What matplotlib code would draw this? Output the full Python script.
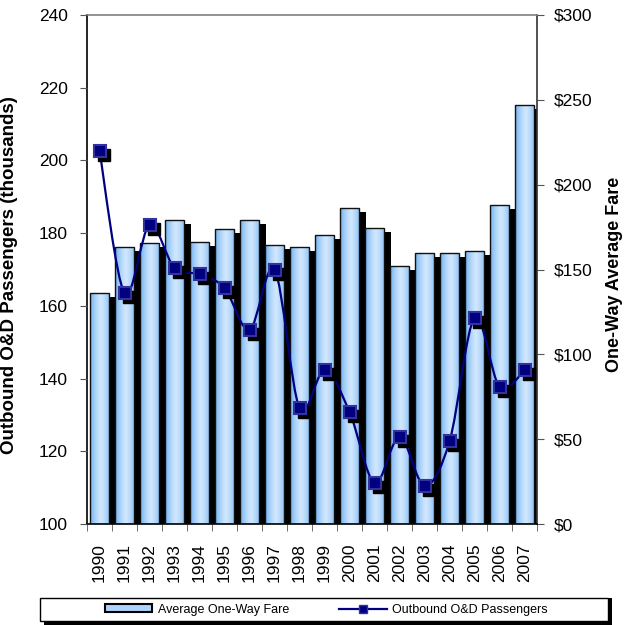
import numpy as np
import matplotlib
matplotlib.use("Agg")
import matplotlib.pyplot as plt
import matplotlib.transforms as mtransforms
from matplotlib.path import Path
from matplotlib.patches import PathPatch, Rectangle, Patch
from matplotlib.lines import Line2D
from matplotlib.colors import to_rgb

plt.rcParams['font.family'] = ['Liberation Sans', 'DejaVu Sans']

# data
years = ['1990', '1991', '1992', '1993', '1994', '1995', '1996', '1997', '1998',
         '1999', '2000', '2001', '2002', '2003', '2004', '2005', '2006', '2007']
fare = [136, 163, 165.5, 179, 166, 174, 179, 164.5, 163,
        170.5, 186, 174.5, 152, 159.5, 159.5, 161, 188, 247]
passengers = [202.6, 163.5, 182.2, 170.4, 168.7, 164.9, 153.4, 169.9, 131.9,
              142.4, 130.8, 111.3, 124.0, 110.5, 122.8, 156.7, 137.7, 142.4]
fare_ticks = [0, 50, 100, 150, 200, 250, 300]
pass_ticks = [100, 120, 140, 160, 180, 200, 220, 240]

x = np.arange(len(years))

fig = plt.figure(figsize=(6.26, 6.25), dpi=100)
ax = fig.add_axes([0.139, 0.1616, 0.719, 0.8144])   # bars, fare scale (right)
ax2 = ax.twinx()                                     # line, passengers (left)

# bar shadows
shadow_tr = mtransforms.offset_copy(ax.transData, fig=fig, x=7, y=-4, units='dots')
ax.bar(x, fare, width=0.76, color='black', transform=shadow_tr, zorder=1)

# gradient bars
edge = np.array(to_rgb('#7bb7f2'))
mid = np.array(to_rgb('#d0e7fe'))
t = np.linspace(0, 1, 64)
w = 1 - np.abs(2 * t - 1.1) ** 1.4
w = np.clip(w, 0, 1)
grad = (edge[None, :] + (mid - edge)[None, :] * w[:, None])[None, :, :]

bars = ax.bar(x, fare, width=0.76, facecolor='none', edgecolor='#111111',
              linewidth=1.0, zorder=3)
for b in bars:
    im = ax.imshow(grad, extent=[b.get_x(), b.get_x() + b.get_width(), 0, b.get_height()],
                   aspect='auto', zorder=2, interpolation='bilinear')
    im.set_clip_path(b)

ax.set_xlim(-0.5, len(years) - 0.5)
ax.set_ylim(0, 300)
ax2.set_ylim(100, 240)

# smoothed line (bezier through the points)
pts = np.column_stack([x, passengers]).astype(float)
n = len(pts)
verts = [pts[0]]
codes = [Path.MOVETO]
for i in range(n - 1):
    p0 = pts[i - 1] if i > 0 else pts[i]
    p1 = pts[i]
    p2 = pts[i + 1]
    p3 = pts[i + 2] if i + 2 < n else pts[i + 1]
    verts += [p1 + (p2 - p0) / 6, p2 - (p3 - p1) / 6, p2]
    codes += [Path.CURVE4] * 3
ax2.add_patch(PathPatch(Path(verts, codes), facecolor='none', edgecolor='#000080',
                        lw=1.6, zorder=4))

mshadow_tr = mtransforms.offset_copy(ax2.transData, fig=fig, x=4, y=-4, units='dots')
ax2.plot(x, passengers, ls='none', marker='s', ms=8.5, color='black',
         transform=mshadow_tr, zorder=5)
ax2.plot(x, passengers, ls='none', marker='s', ms=8.5, mfc='#000080',
         mec='#33339f', mew=1.5, zorder=6)

# axes sides: fare on right, passengers on left
ax.yaxis.tick_right()
ax.yaxis.set_label_position('right')
ax2.yaxis.tick_left()
ax2.yaxis.set_label_position('left')

ax.set_yticks(fare_ticks)
ax.set_yticklabels(['$%d' % v for v in fare_ticks], fontsize=12.5)
ax.tick_params(axis='y', direction='out', length=5, pad=7, color='#555555')
ax2.set_yticks(pass_ticks)
ax2.set_yticklabels([str(v) for v in pass_ticks], fontsize=12.5)
ax2.tick_params(axis='y', direction='out', length=5, pad=9, color='#555555')

ax.set_xticks(x)
ax.set_xticklabels(years, rotation=90, fontsize=12.5)
ax.tick_params(axis='x', which='major', length=0, pad=14)
ax.set_xticks(np.arange(-0.5, len(years), 1), minor=True)
ax.tick_params(axis='x', which='minor', direction='out', length=5, color='#555555')

for s in ax2.spines.values():
    s.set_visible(False)
ax.spines['top'].set_color('#808080')
ax.spines['left'].set_color('black')
ax.spines['right'].set_color('#333333')
ax.spines['bottom'].set_color('black')
for s in ax.spines.values():
    s.set_linewidth(1.2)

ax2.set_ylabel('Outbound O&D Passengers (thousands)', fontsize=13.5, fontweight='bold')
ax2.yaxis.set_label_coords(-0.153, 0.49)
ax.set_ylabel('One-Way Average Fare', fontsize=13, fontweight='bold')
ax.yaxis.set_label_coords(1.153, 0.49)

# legend box with shadow
fig.patches.append(Rectangle((40 / 626 + 0.007, 0.0), 568 / 626, 0.043,
                             transform=fig.transFigure, facecolor='black',
                             edgecolor='none', zorder=0))
fig.patches.append(Rectangle((40 / 626, 0.006), 568 / 626, 0.037,
                             transform=fig.transFigure, facecolor='white',
                             edgecolor='black', lw=1.0, zorder=1))
handles = [Patch(facecolor='#acd4fc', edgecolor='black', lw=1.5),
           Line2D([], [], color='#000080', lw=1.6, marker='s', ms=6,
                  mfc='#000080', mec='#33339f')]
fig.legend(handles, ['Average One-Way Fare', 'Outbound O&D Passengers'],
           loc='center', bbox_to_anchor=(0.5216, 0.0245), ncol=2, frameon=False,
           fontsize=9, handlelength=3.8, handleheight=0.6, columnspacing=4.0,
           handletextpad=0.45)

fig.savefig('out.png', dpi=100)
